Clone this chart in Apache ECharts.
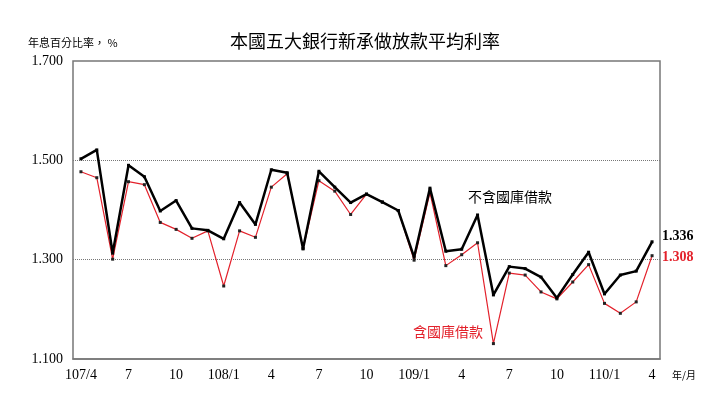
<!DOCTYPE html>
<html>
<head>
<meta charset="utf-8">
<script src="https://cdn.jsdelivr.net/npm/echarts@6/dist/echarts.min.js"></script>
<style>
  html, body { margin: 0; padding: 0; background: #fff; }
  #main { width: 715px; height: 414px; }
</style>
</head>
<body>
<div id="main"></div>
<script>
// 月份 107/4 ~ 110/4
var months = [
  '107/4', '107/5', '107/6', '107/7', '107/8', '107/9', '107/10', '107/11', '107/12',
  '108/1', '108/2', '108/3', '108/4', '108/5', '108/6', '108/7', '108/8', '108/9',
  '108/10', '108/11', '108/12', '109/1', '109/2', '109/3', '109/4', '109/5', '109/6',
  '109/7', '109/8', '109/9', '109/10', '109/11', '109/12', '110/1', '110/2', '110/3', '110/4'
];
// 不含國庫借款
var exTreasury = [
  1.503, 1.521, 1.313, 1.490, 1.467, 1.398, 1.419, 1.363, 1.359,
  1.342, 1.415, 1.371, 1.481, 1.475, 1.322, 1.478, 1.446, 1.415,
  1.432, 1.416, 1.399, 1.305, 1.444, 1.317, 1.321, 1.390, 1.229,
  1.286, 1.282, 1.265, 1.223, 1.270, 1.315, 1.231, 1.269, 1.277, 1.336
];
// 含國庫借款
var inTreasury = [
  1.477, 1.465, 1.301, 1.457, 1.451, 1.375, 1.361, 1.343, 1.358,
  1.247, 1.358, 1.345, 1.446, 1.473, 1.322, 1.459, 1.438, 1.391,
  1.432, 1.416, 1.399, 1.299, 1.435, 1.288, 1.310, 1.334, 1.131,
  1.273, 1.269, 1.235, 1.221, 1.255, 1.290, 1.212, 1.192, 1.215, 1.308
];
var yTicks = [1.1, 1.3, 1.5, 1.7];

var serif = '"Liberation Serif", "DejaVu Serif", serif';
var cjk = '"Noto Sans CJK TC", "Noto Sans CJK SC", sans-serif';
var red = '#e3212b';

var myChart = echarts.init(document.getElementById('main'));
myChart.setOption({
    backgroundColor: '#fff',
    animation: false,
    title: {
        text: '本國五大銀行新承做放款平均利率',
        left: 360,
        top: 27,
        textAlign: 'center',
        textStyle: { fontFamily: cjk, fontSize: 18, fontWeight: 'normal', color: '#000' }
    },
    grid: {
        left: 73,
        right: 55,
        top: 61,
        bottom: 55,
        show: true,
        borderColor: '#777',
        borderWidth: 1.5
    },
    xAxis: {
        type: 'category',
        data: months,
        boundaryGap: true,
        axisLine: { lineStyle: { color: '#777', width: 1.5 } },
        axisTick: {
            inside: true,
            length: 4,
            interval: 0,
            lineStyle: { color: '#888' }
        },
        axisLabel: {
            interval: 2,
            margin: 9,
            fontFamily: serif,
            fontSize: 14,
            color: '#000',
            formatter: function (v, i) {
                var m = v.split('/')[1];
                return (i === 0 || m === '1') ? v : m;
            }
        }
    },
    yAxis: {
        type: 'value',
        min: yTicks[0],
        max: yTicks[yTicks.length - 1],
        interval: 0.2,
        axisLine: { show: false },
        axisTick: { show: false },
        axisLabel: {
            margin: 10,
            fontFamily: serif,
            fontSize: 14,
            color: '#000',
            formatter: function (v) { return v.toFixed(3); }
        },
        splitLine: {
            showMinLine: false,
            showMaxLine: false,
            lineStyle: { color: '#777', type: 'dotted', width: 1 }
        }
    },
    series: [
        {
            name: '含國庫借款',
            type: 'line',
            data: inTreasury,
            symbol: 'rect',
            symbolSize: 3,
            showSymbol: true,
            itemStyle: { color: '#222' },
            lineStyle: { color: red, width: 1.2 },
            endLabel: {
                show: true,
                distance: 10,
                offset: [0, 2],
                fontFamily: serif,
                fontSize: 14,
                fontWeight: 'bold',
                color: red,
                formatter: function (p) { return p.value.toFixed(3); }
            },
            z: 2
        },
        {
            name: '不含國庫借款',
            type: 'line',
            data: exTreasury,
            symbol: 'rect',
            symbolSize: 3,
            showSymbol: true,
            itemStyle: { color: '#000' },
            lineStyle: { color: '#000', width: 2.5 },
            endLabel: {
                show: true,
                distance: 10,
                offset: [0, -5],
                fontFamily: serif,
                fontSize: 14,
                fontWeight: 'bold',
                color: '#000',
                formatter: function (p) { return p.value.toFixed(3); }
            },
            z: 3
        }
    ],
    graphic: [
        {
            type: 'text',
            left: 28,
            top: 37,
            style: { text: '年息百分比率， %', fontFamily: cjk, fontSize: 11, fill: '#000' }
        },
        {
            type: 'text',
            left: 672,
            top: 370,
            style: { text: '年/月', fontFamily: cjk, fontSize: 10, fill: '#000' }
        },
        {
            type: 'text',
            left: 468,
            top: 190,
            style: { text: '不含國庫借款', fontFamily: cjk, fontSize: 14, fill: '#000' }
        },
        {
            type: 'text',
            left: 413,
            top: 325,
            style: { text: '含國庫借款', fontFamily: cjk, fontSize: 14, fill: red }
        }
    ]
});
</script>
</body>
</html>
